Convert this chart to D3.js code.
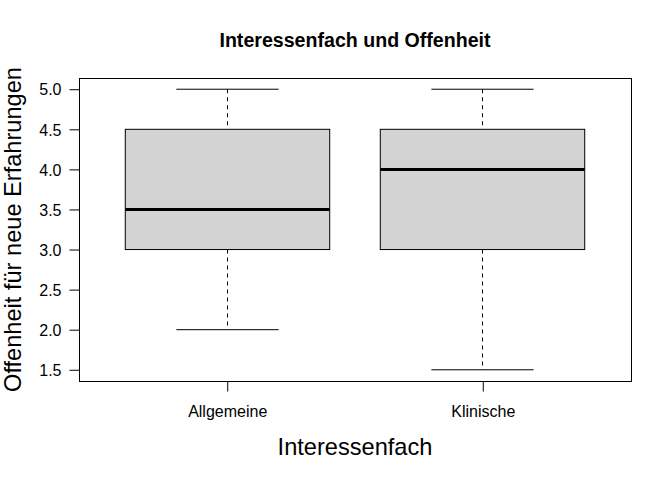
<!DOCTYPE html>
<html><head><meta charset="utf-8">
<script src="https://cdn.jsdelivr.net/npm/d3@7"></script>
<style>body{margin:0;background:#fff}svg{display:block;font-family:"Liberation Sans",Arial,sans-serif}</style>
</head><body>
<script>
const categories = ["Allgemeine", "Klinische"];
const lowerWhisker = [2.0, 1.5];
const q1 = [3.0, 3.0];
const median = [3.5, 4.0];
const q3 = [4.5, 4.5];
const upperWhisker = [5.0, 5.0];
const yTicks = [1.5, 2.0, 2.5, 3.0, 3.5, 4.0, 4.5, 5.0];

const W = 672, H = 480;
const L = 79, R = 631, T = 78, B = 381;
const FF = "Liberation Sans, Arial, sans-serif";
const svg = d3.select("body").append("svg").attr("width", W).attr("height", H);

const x = d3.scaleLinear().domain([0.42, 2.58]).range([L, R]);
const y = d3.scaleLinear().domain([1.36, 5.14]).range([B, T]);

const data = categories.map((c, i) => ({c, i: i + 1, lo: lowerWhisker[i], q1: q1[i], med: median[i], q3: q3[i], hi: upperWhisker[i]}));

const g = svg.append("g");
const bw = x(1.4) - x(1.0);
const sw = x(1.2) - x(1.0);
data.forEach(d => {
  const cx = Math.floor(x(d.i)) + 0.5;
  g.append("line").attr("x1", cx).attr("x2", cx).attr("y1", y(d.hi)).attr("y2", y(d.q3))
    .attr("stroke", "#000").attr("stroke-dasharray", "4,4").attr("stroke-width", 1);
  g.append("line").attr("x1", cx).attr("x2", cx).attr("y1", y(d.q1)).attr("y2", y(d.lo))
    .attr("stroke", "#000").attr("stroke-dasharray", "4,4").attr("stroke-width", 1);
  g.append("line").attr("x1", cx - sw).attr("x2", cx + sw).attr("y1", y(d.hi)).attr("y2", y(d.hi)).attr("stroke", "#000");
  g.append("line").attr("x1", cx - sw).attr("x2", cx + sw).attr("y1", y(d.lo)).attr("y2", y(d.lo)).attr("stroke", "#000");
  g.append("rect").attr("x", cx - bw).attr("width", 2 * bw).attr("y", y(d.q3)).attr("height", y(d.q1) - y(d.q3))
    .attr("fill", "#d3d3d3").attr("stroke", "#000").attr("stroke-width", 1);
  g.append("line").attr("x1", cx - bw).attr("x2", cx + bw).attr("y1", y(d.med)).attr("y2", y(d.med))
    .attr("stroke", "#000").attr("stroke-width", 3);
});

svg.append("rect").attr("x", L + 0.5).attr("y", T + 0.5).attr("width", R - L).attr("height", B - T)
  .attr("fill", "none").attr("stroke", "#000").attr("stroke-width", 1);

// y axis
const yAxis = d3.axisLeft(y).tickValues(yTicks).tickFormat(d3.format(".1f")).tickSize(10).tickPadding(8);
const ya = svg.append("g").attr("transform", `translate(${L + 0.5},0)`).call(yAxis);
ya.select(".domain").remove();
ya.attr("font-size", 16).attr("font-family", FF);
ya.selectAll("text").attr("fill", "#000").attr("dy", "0.36em");

// x axis
const xAxis = d3.axisBottom(x).tickValues([1, 2]).tickFormat((d) => categories[d - 1]).tickSize(10).tickSizeOuter(0);
const xa = svg.append("g").attr("transform", `translate(0,${B + 0.5})`).call(xAxis);
xa.select(".domain").attr("d", `M${x(1)},0H${x(2)}`);
xa.attr("font-size", 16).attr("font-family", FF);
xa.selectAll("text").attr("fill", "#000").attr("y", 35).attr("dy", 0);

// titles
svg.append("text").attr("x", (L + R) / 2).attr("y", 47).attr("text-anchor", "middle")
  .attr("font-size", 19.6).attr("font-weight", "bold").text("Interessenfach und Offenheit");
svg.append("text").attr("x", (L + R) / 2).attr("y", 455).attr("text-anchor", "middle")
  .attr("font-size", 23.6).text("Interessenfach");
svg.append("text").attr("transform", `translate(20.5,${(T + B) / 2}) rotate(-90)`).attr("text-anchor", "middle")
  .attr("font-size", 23.6).text("Offenheit für neue Erfahrungen");
</script>
</body></html>
